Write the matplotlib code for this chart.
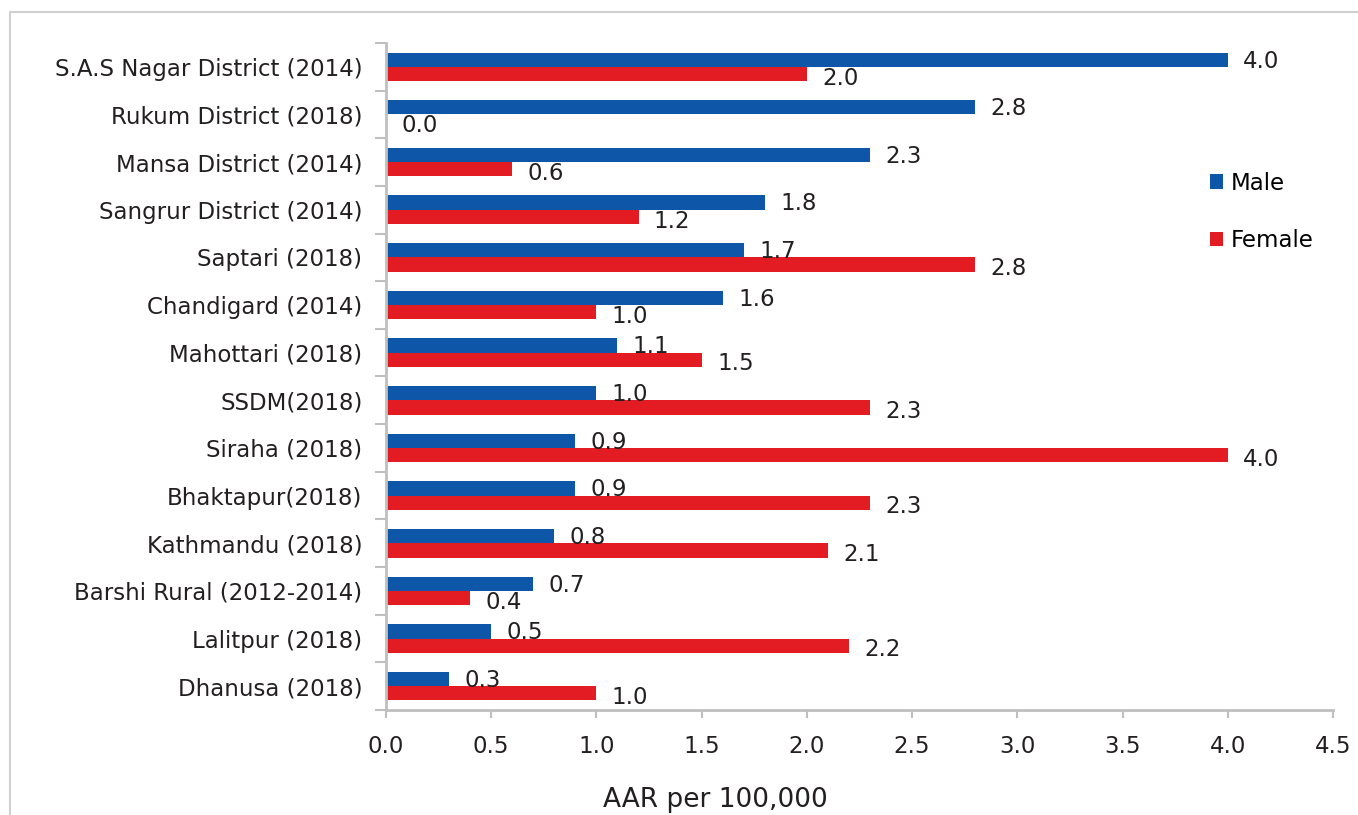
import numpy as np
import matplotlib
matplotlib.use("Agg")
import matplotlib.pyplot as plt
from matplotlib.lines import Line2D

regions = ["S.A.S Nagar District (2014)", "Rukum District (2018)", "Mansa District (2014)",
           "Sangrur District (2014)", "Saptari (2018)", "Chandigard (2014)",
           "Mahottari (2018)", "SSDM(2018)", "Siraha (2018)", "Bhaktapur(2018)",
           "Kathmandu (2018)", "Barshi Rural (2012-2014)", "Lalitpur (2018)",
           "Dhanusa (2018)"]
male = [4.0, 2.8, 2.3, 1.8, 1.7, 1.6, 1.1, 1.0, 0.9, 0.9, 0.8, 0.7, 0.5, 0.3]
female = [2.0, 0.0, 0.6, 1.2, 2.8, 1.0, 1.5, 2.3, 4.0, 2.3, 2.1, 0.4, 2.2, 1.0]

BLUE = "#0E56A8"
RED = "#E31B23"
GRID = "#BFBFBF"
TXT = "#231F20"
FS = 16.5

plt.rcParams["font.family"] = ["DejaVu Sans"]
fig = plt.figure(figsize=(13.58, 8.15), dpi=100)
# outer frame (only top and left edges visible in the crop)
y_top = 1 - 12 / 815
x_left = 10 / 1358
fig.lines.append(Line2D([x_left, x_left, 1.05], [0.0, y_top, y_top],
                        transform=fig.transFigure, color="#D0D0D0", lw=1.5))
ax = fig.add_axes([386 / 1358, 1 - 710 / 815, (1333 - 386) / 1358, (710 - 43) / 815])

n = len(regions)
y = np.arange(n)[::-1].astype(float)
h = 0.3
ax.barh(y + h / 2, male, height=h, color=BLUE, label="Male")
ax.barh(y - h / 2, female, height=h, color=RED, label="Female")

for yi, m, f in zip(y, male, female):
    ax.annotate(f"{m:.1f}", (m, yi + h / 2), xytext=(11, -1), textcoords="offset points",
                va="center", ha="left", fontsize=FS, color=TXT)
    ax.annotate(f"{f:.1f}", (f, yi - h / 2), xytext=(11, -3), textcoords="offset points",
                va="center", ha="left", fontsize=FS, color=TXT)

ax.set_xlim(0, 4.5)
ax.set_ylim(-0.5, n - 0.5)
ax.set_xticks(np.arange(0, 4.51, 0.5))
ax.set_xticklabels([f"{v:.1f}" for v in np.arange(0, 4.51, 0.5)], fontsize=FS, color=TXT)
ax.set_yticks(y)
ax.set_yticklabels(regions, fontsize=FS, color=TXT)
ax.set_yticks(np.arange(-0.5, n, 1.0), minor=True)
ax.tick_params(axis="y", which="major", length=0, pad=17)
ax.tick_params(axis="y", which="minor", length=8, color=GRID, width=1.5)
ax.tick_params(axis="x", length=6, color=GRID, width=1.5, pad=12)
for s in ("top", "right"):
    ax.spines[s].set_visible(False)
for s in ("left", "bottom"):
    ax.spines[s].set_color(GRID)
    ax.spines[s].set_linewidth(2)

ax.legend(loc="upper left", bbox_to_anchor=(0.848, 0.838), frameon=False, fontsize=FS,
          handlelength=0.6, handleheight=0.6, handletextpad=0.3, labelspacing=1.5)

fig.text(715 / 1358, 1 - 800 / 815, "AAR per 100,000", ha="center", va="center",
         fontsize=19, color=TXT)

fig.savefig("out.png", dpi=100)
